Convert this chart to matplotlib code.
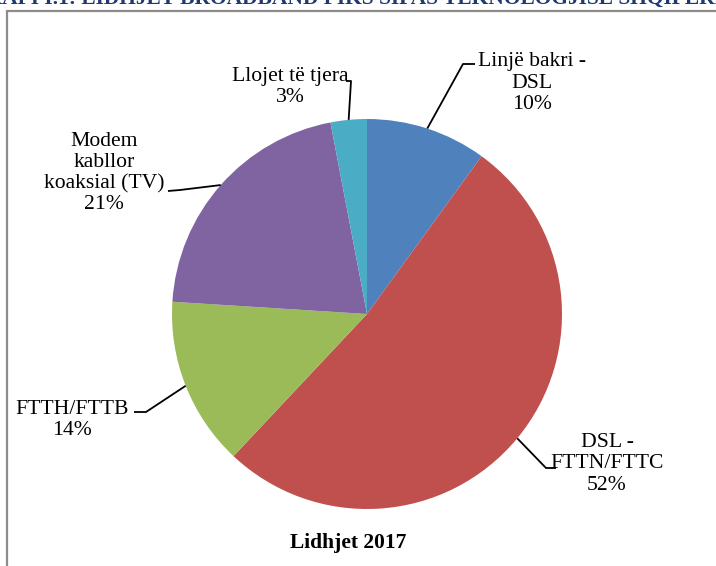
import numpy as np
import matplotlib
matplotlib.use("Agg")
from matplotlib import pyplot as plt
from matplotlib.patches import Rectangle

W, H = 716, 566

labels = ["Linjë bakri -\nDSL", "DSL -\nFTTN/FTTC", "FTTH/FTTB",
          "Modem\nkabllor\nkoaksial (TV)", "Llojet të tjera"]
shares = [10, 52, 14, 21, 3]
colors = ["#4F81BD", "#C0504D", "#9BBB59", "#8064A2", "#4BACC6"]
chart_title = "Lidhjet 2017"
page_title = "GRAFI I.1: LIDHJET BROADBAND FIKS SIPAS TEKNOLOGJISË SHQIPËRI"

# label layout in picture pixels: text centre, leader elbow, leader end
text_pos = [(532, 83), (607, 464), (72, 420), (104, 173), (290, 87)]
elbow = [(463, 64), (546, 468), (146, 412), (180, 190), (351, 81)]
tip = [(475, 64), (556, 468), (134, 412), (168, 191), (346, 81)]

serif = ["Liberation Serif", "DejaVu Serif"]

fig = plt.figure(figsize=(W / 100, H / 100), dpi=100)
ax = fig.add_axes([0, 0, 1, 1])

cx, cy, r = 367, H - 314, 195
wedges, _ = ax.pie(shares, colors=colors, startangle=90, counterclock=False,
                   center=(cx, cy), radius=r, frame=True,
                   wedgeprops=dict(linewidth=0))
ax.set_xlim(0, W)
ax.set_ylim(0, H)
ax.set_aspect("equal")
ax.axis("off")

for w, lab, val, tp, el, tq in zip(wedges, labels, shares, text_pos, elbow, tip):
    mid = np.deg2rad((w.theta1 + w.theta2) / 2)
    px, py = cx + r * np.cos(mid), cy + r * np.sin(mid)
    ax.plot([px, el[0], tq[0]], [py, H - el[1], H - tq[1]],
            color="black", lw=1.3, solid_capstyle="butt")
    ax.text(tp[0], H - tp[1], f"{lab}\n{val}%", ha="center", va="center",
            family=serif, fontsize=15.6, linespacing=1.15)

ax.text(348, H - 543, chart_title, ha="center", va="center",
        family=serif, fontsize=15.5, fontweight="bold")

# outer chart frame (runs off the right and bottom edges)
fig.patches.append(Rectangle((7.5 / W, -0.1), 1.2, (H - 10.5) / H + 0.1,
                             transform=fig.transFigure, fill=False,
                             edgecolor="#8C8C8C", lw=1.6))

# page heading, cut by the top edge as in the source page
fig.text(-30 / W, (H - 4) / H, page_title, ha="left", va="baseline",
         family=serif, fontsize=15.5, fontweight="bold", color="#1F3A6E")

fig.savefig("out.png", dpi=100)
